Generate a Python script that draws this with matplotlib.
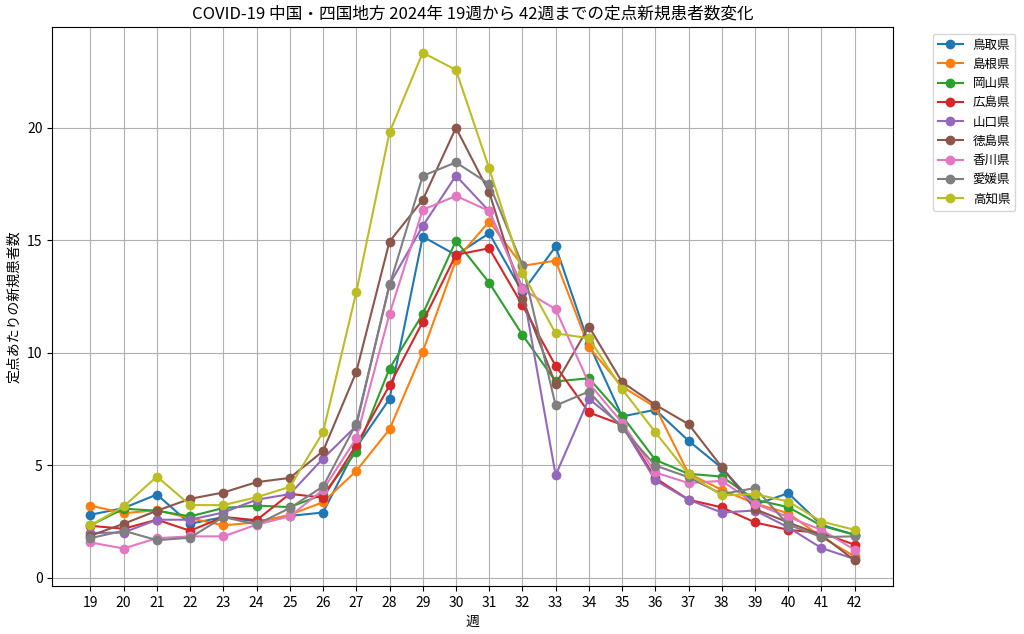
import matplotlib
matplotlib.use('Agg')
import matplotlib.pyplot as plt

plt.rcParams['font.family'] = ['Noto Sans CJK JP', 'DejaVu Sans']

weeks = list(range(19, 43))

prefectures = ['鳥取県', '島根県', '岡山県', '広島県', '山口県', '徳島県', '香川県', '愛媛県', '高知県']

tottori = [2.8, 3.1, 3.7, 2.4, 2.7, 2.5, 2.75, 2.9, 5.8, 7.95, 15.17, 14.35, 15.32, 12.7, 14.73, 10.4, 7.17, 7.47, 6.09, 4.88, 3.25, 3.76, 2.35, 1.91]
shimane = [3.21, 2.87, 3.0, 2.65, 2.33, 2.46, 2.8, 3.36, 4.75, 6.6, 10.05, 14.13, 15.84, 13.87, 14.1, 10.25, 8.5, 7.59, 4.63, 3.91, 3.3, 2.87, 1.81, 0.95]
okayama = [2.33, 3.07, 2.98, 2.73, 3.1, 3.21, 3.14, 3.7, 5.6, 9.3, 11.73, 14.99, 13.12, 10.8, 8.73, 8.87, 7.2, 5.24, 4.62, 4.5, 3.47, 3.14, 2.31, 1.91]
hiroshima = [2.31, 2.18, 2.58, 2.09, 2.7, 2.56, 3.73, 3.56, 5.9, 8.55, 11.38, 14.36, 14.65, 12.12, 9.42, 7.35, 6.8, 4.43, 3.47, 3.13, 2.46, 2.13, 1.99, 1.47]
yamaguchi = [1.99, 2.01, 2.58, 2.58, 2.9, 3.47, 3.72, 5.3, 6.75, 13.05, 15.64, 17.88, 16.3, 12.9, 4.56, 7.96, 6.76, 4.33, 3.47, 2.9, 2.99, 2.24, 1.32, 0.83]
tokushima = [1.87, 2.4, 2.98, 3.51, 3.79, 4.25, 4.44, 5.63, 9.15, 14.95, 16.8, 20.01, 17.14, 12.41, 8.61, 11.17, 8.7, 7.69, 6.83, 4.92, 3.05, 2.46, 1.9, 0.77]
kagawa = [1.57, 1.3, 1.76, 1.84, 1.84, 2.36, 2.73, 3.91, 6.2, 11.73, 16.36, 16.98, 16.31, 12.83, 11.94, 8.65, 6.9, 4.68, 4.21, 4.31, 3.29, 2.7, 2.13, 1.24]
ehime = [1.76, 2.09, 1.67, 1.78, 2.7, 2.37, 3.1, 4.06, 6.85, 13.0, 17.87, 18.47, 17.51, 13.91, 7.66, 8.28, 6.65, 4.99, 4.47, 3.72, 3.99, 2.36, 1.81, 1.84]
kochi = [2.33, 3.17, 4.5, 3.23, 3.23, 3.58, 4.04, 6.47, 12.7, 19.8, 23.35, 22.58, 18.2, 13.57, 10.87, 10.65, 8.39, 6.47, 4.61, 3.66, 3.72, 3.39, 2.5, 2.13]

series = [tottori, shimane, okayama, hiroshima, yamaguchi, tokushima, kagawa, ehime, kochi]

fig, ax = plt.subplots(figsize=(10.24, 6.34), dpi=100)
fig.subplots_adjust(left=0.051, right=0.872, top=0.957, bottom=0.076)

for name, vals in zip(prefectures, series):
    ax.plot(weeks, vals, marker='o', label=name)

ax.set_title('COVID-19 中国・四国地方 2024年 19週から 42週までの定点新規患者数変化')
ax.set_xlabel('週')
ax.set_ylabel('定点あたりの新規患者数')
ax.set_xticks(weeks)
ax.grid(True)
ax.legend(loc='upper left', bbox_to_anchor=(1.04, 1), fontsize=9)

fig.savefig('out.png')
